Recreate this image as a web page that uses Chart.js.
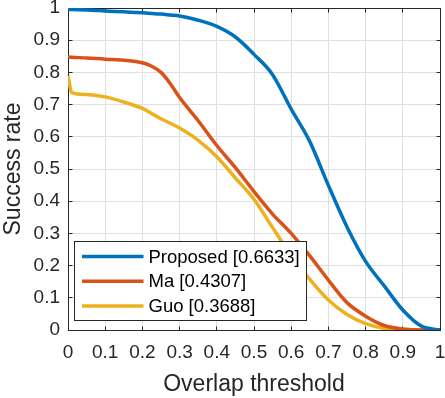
<!DOCTYPE html>
<html><head><meta charset="utf-8">
<script src="https://cdn.jsdelivr.net/npm/chart.js@4"></script>
<style>html,body{margin:0;padding:0;background:#fff;overflow:hidden}#wrap{width:445px;height:398px;position:relative}</style>
</head><body><div id="wrap"><canvas id="c"></canvas></div>
<script>
const thresholds = [0, 0.01, 0.05, 0.1, 0.15, 0.2, 0.225, 0.25, 0.275, 0.3, 0.35, 0.4, 0.45, 0.5, 0.55, 0.6, 0.65, 0.7, 0.75, 0.8, 0.85, 0.9, 0.95, 1];
const proposedRates = [0.995, 0.995, 0.994, 0.991, 0.988, 0.985, 0.983, 0.981, 0.978, 0.975, 0.962, 0.943, 0.91, 0.856, 0.793, 0.686, 0.585, 0.449, 0.32, 0.213, 0.137, 0.062, 0.012, 0];
const maRates = [0.848, 0.847, 0.845, 0.841, 0.838, 0.83, 0.819, 0.8, 0.765, 0.722, 0.65, 0.573, 0.504, 0.43, 0.36, 0.3, 0.23, 0.155, 0.085, 0.043, 0.014, 0.003, 0, 0];
const guoRates = [0.789, 0.737, 0.731, 0.724, 0.708, 0.688, 0.672, 0.656, 0.642, 0.627, 0.589, 0.538, 0.472, 0.406, 0.318, 0.232, 0.157, 0.093, 0.048, 0.02, 0.005, 0, 0, 0];
const seriesNames = ['Proposed', 'Ma', 'Guo'];
const aucScores = ['0.6633', '0.4307', '0.3688'];
const xTicks = [0, 0.1, 0.2, 0.3, 0.4, 0.5, 0.6, 0.7, 0.8, 0.9, 1];
const yTicks = [0, 0.1, 0.2, 0.3, 0.4, 0.5, 0.6, 0.7, 0.8, 0.9, 1];
const seriesColors = ['#0072BD', '#D95319', '#EDB120'];
const allRates = [proposedRates, maRates, guoRates];

const FONT = '"Liberation Sans", Arial, Helvetica, sans-serif';
const AXIS = '#262626';
Chart.defaults.font.family = FONT;
Chart.defaults.color = AXIS;

function align(p) { return Math.round(p - 0.5) + 0.5; }

const boxPlugin = {
  id: 'boxTicks',
  beforeDatasetsDraw(chart) {
    const {ctx, chartArea: a, scales: {x, y}} = chart;
    ctx.save();
    ctx.strokeStyle = AXIS; ctx.lineWidth = 1;
    ctx.beginPath();
    const L = align(a.left), R = align(a.right), T = align(a.top), B = align(a.bottom);
    xTicks.forEach(v => { const p = align(x.getPixelForValue(v)); ctx.moveTo(p, B); ctx.lineTo(p, B - 4); ctx.moveTo(p, T); ctx.lineTo(p, T + 4); });
    yTicks.forEach(v => { const p = align(y.getPixelForValue(v)); ctx.moveTo(L, p); ctx.lineTo(L + 4, p); ctx.moveTo(R, p); ctx.lineTo(R - 4, p); });
    ctx.stroke();
    ctx.strokeRect(L, T, R - L, B - T);
    ctx.restore();
  }
};

const legendPlugin = {
  id: 'boxLegend',
  afterDraw(chart) {
    const {ctx, chartArea: a} = chart;
    ctx.save();
    ctx.font = '18.5px ' + FONT;
    const labels = chart.data.datasets.map(d => d.label);
    const maxW = Math.max(...labels.map(t => ctx.measureText(t).width));
    const bx = align(a.left + 6), by = align(a.bottom - 89), bh = 79;
    const textX = bx + 74;
    const bw = Math.round(textX + maxW + 7 - bx);
    ctx.fillStyle = '#fff';
    ctx.fillRect(bx, by, bw, bh);
    ctx.strokeStyle = AXIS; ctx.lineWidth = 1;
    ctx.strokeRect(bx, by, bw, bh);
    chart.data.datasets.forEach((d, i) => {
      const ly = by + 15 + i * 24.8;
      ctx.strokeStyle = d.borderColor; ctx.lineWidth = 3.5;
      ctx.beginPath(); ctx.moveTo(bx + 7.5, ly); ctx.lineTo(bx + 69, ly); ctx.stroke();
      ctx.fillStyle = '#000'; ctx.textBaseline = 'middle'; ctx.textAlign = 'left';
      ctx.fillText(d.label, textX, ly + 1);
    });
    ctx.restore();
  }
};

const datasets = seriesNames.map((n, i) => ({
  label: n + ' [' + aucScores[i] + ']',
  data: thresholds.map((t, k) => ({x: t, y: allRates[i][k]})),
  borderColor: seriesColors[i],
  backgroundColor: seriesColors[i],
  borderWidth: 3.5,
  pointRadius: 0,
  cubicInterpolationMode: 'monotone',
  fill: false
}));

new Chart(document.getElementById('c'), {
  type: 'line',
  data: {datasets},
  options: {
    responsive: true,
    maintainAspectRatio: false,
    animation: false,
    layout: {padding: {left: 0, right: 5, top: 8, bottom: 0}},
    plugins: {legend: {display: false}, tooltip: {enabled: false}},
    scales: {
      x: {
        type: 'linear', min: 0, max: 1,
        afterBuildTicks: s => { s.ticks = xTicks.map(v => ({value: v})); },
        afterFit: s => { s.height = 68; s.paddingLeft = 0; s.paddingRight = 0; },
        ticks: {font: {size: 19}, color: AXIS, padding: 11, maxRotation: 0, autoSkip: false, callback: v => String(v)},
        grid: {color: '#dfdfdf', lineWidth: 1, drawTicks: false},
        border: {display: false},
        title: {display: true, text: 'Overlap threshold', font: {size: 23}, color: AXIS, padding: {top: 0, bottom: 0}}
      },
      y: {
        type: 'linear', min: 0, max: 1,
        afterBuildTicks: s => { s.ticks = yTicks.map(v => ({value: v})); },
        afterFit: s => { s.width = 68; s.paddingTop = 0; s.paddingBottom = 0; },
        ticks: {font: {size: 19}, color: AXIS, padding: 8, autoSkip: false, callback: v => String(v)},
        grid: {color: '#dfdfdf', lineWidth: 1, drawTicks: false},
        border: {display: false},
        title: {display: true, text: 'Success rate', font: {size: 23}, color: AXIS, padding: {top: 0, bottom: 0}}
      }
    }
  },
  plugins: [boxPlugin, legendPlugin]
});
</script>
</body></html>
